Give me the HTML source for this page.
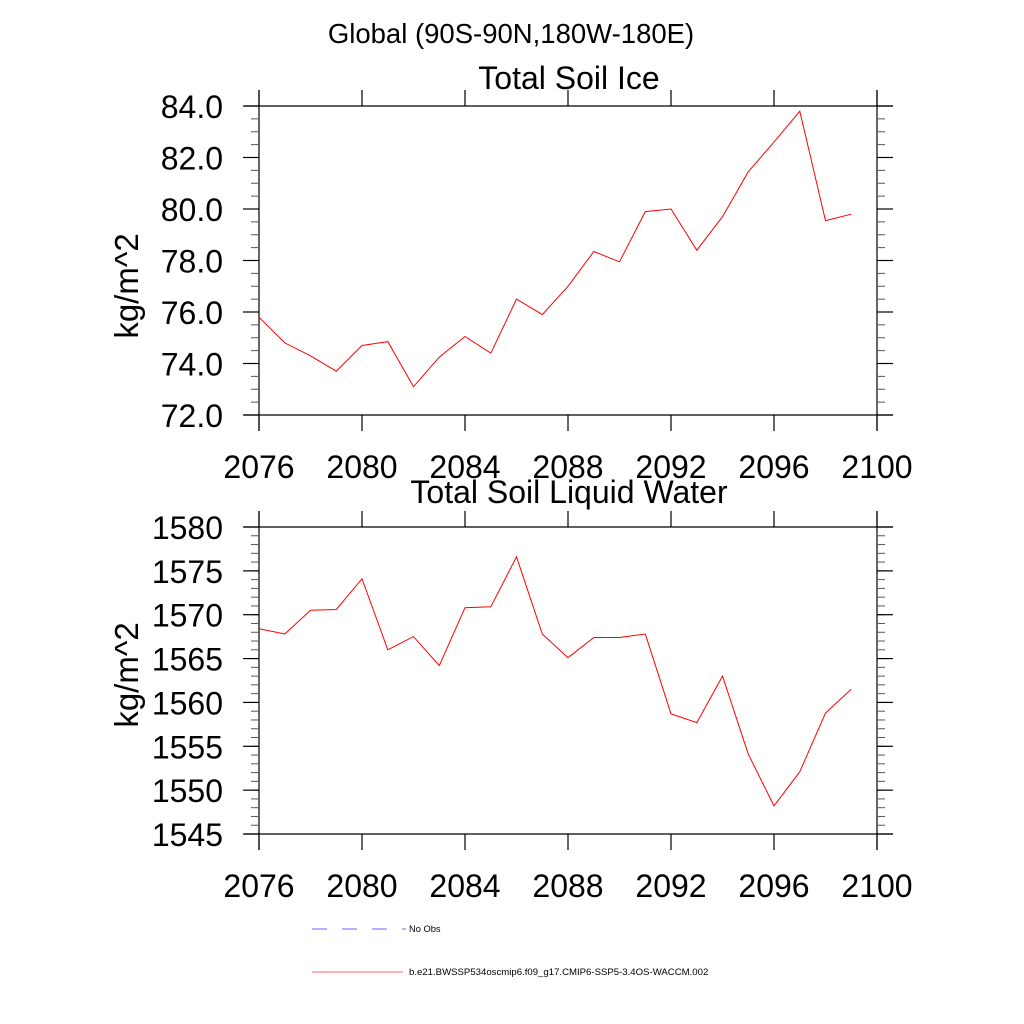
<!DOCTYPE html>
<html><head><meta charset="utf-8"><style>
html,body{margin:0;padding:0;background:#fff;}
svg{display:block;font-family:"Liberation Sans",sans-serif;}
</style></head><body>
<svg id="c" width="1024" height="1024" viewBox="0 0 1024 1024" xmlns="http://www.w3.org/2000/svg">
<text x="511" y="43" font-size="27.5" text-anchor="middle">Global (90S-90N,180W-180E)</text>
<g>
<line x1="312" y1="929" x2="406" y2="929" stroke="#6666ff" stroke-width="1" stroke-dasharray="15,15"/>
<text x="409" y="932" font-size="9.3">No Obs</text>
<line x1="312" y1="972" x2="403" y2="972" stroke="#ff6666" stroke-width="1"/>
<text x="409" y="975" font-size="9.6">b.e21.BWSSP534oscmip6.f09_g17.CMIP6-SSP5-3.4OS-WACCM.002</text>
</g>
</svg>
<script>
const years=[2076,2077,2078,2079,2080,2081,2082,2083,2084,2085,2086,2087,2088,2089,2090,2091,2092,2093,2094,2095,2096,2097,2098,2099];
const iceValues=[75.8,74.8,74.3,73.7,74.7,74.85,73.1,74.25,75.05,74.4,76.5,75.9,77.0,78.35,77.95,79.9,80.0,78.4,79.7,81.45,82.6,83.8,79.55,79.8];
const liqValues=[1568.4,1567.8,1570.5,1570.6,1574.1,1566.0,1567.5,1564.2,1570.8,1570.9,1576.6,1567.8,1565.1,1567.4,1567.4,1567.8,1558.7,1557.7,1563.0,1554.1,1548.2,1552.1,1558.8,1561.5];
const xTicks=[2076,2080,2084,2088,2092,2096,2100];
const iceTicks=[72,74,76,78,80,82,84];
const iceTickLabels=["72.0","74.0","76.0","78.0","80.0","82.0","84.0"];
const liqTicks=[1545,1550,1555,1560,1565,1570,1575,1580];
const liqTickLabels=["1545","1550","1555","1560","1565","1570","1575","1580"];

const NS="http://www.w3.org/2000/svg";
const svg=document.getElementById('c');
function el(tag,attrs,parent){const e=document.createElementNS(NS,tag);for(const k in attrs)e.setAttribute(k,attrs[k]);(parent||svg).appendChild(e);return e;}

function panel(cfg){
  const L=259,R=877,T=cfg.top,B=cfg.bottom;
  const xs=v=>L+(v-2076)/(2100-2076)*(R-L);
  const ys=v=>B-(v-cfg.ymin)/(cfg.ymax-cfg.ymin)*(B-T);
  const g=el('g',{});
  
  
  const bs={stroke:'#000','stroke-width':1.2,fill:'none'};
  let e;
  e=el('line',Object.assign({x1:244,y1:T,x2:893,y2:T},bs),g);
  e=el('line',Object.assign({x1:244,y1:B,x2:893,y2:B},bs),g);
  e=el('line',Object.assign({x1:L,y1:T-16,x2:L,y2:B+16},bs),g);
  e=el('line',Object.assign({x1:R,y1:T-16,x2:R,y2:B+16},bs),g);
  xTicks.forEach(t=>{
    const x=xs(t);
    el('line',{x1:x,y1:T,x2:x,y2:T-16,stroke:'#000','stroke-width':1.2},g);
    el('line',{x1:x,y1:B,x2:x,y2:B+16,stroke:'#000','stroke-width':1.2},g);
    const tx=el('text',{x:x,y:B+63,'font-size':32,'text-anchor':'middle'},g);
    tx.textContent=t;
    
    
  });
  for(let v=cfg.ymin;v<=cfg.ymax+1e-9;v+=cfg.minor){
    const y=ys(v);
    el('line',{x1:L,y1:y,x2:L-8,y2:y,stroke:'#555','stroke-width':1},g);
    el('line',{x1:R,y1:y,x2:R+8,y2:y,stroke:'#555','stroke-width':1},g);
  }
  cfg.ticks.forEach((t,i)=>{
    const y=ys(t);
    el('line',{x1:L,y1:y,x2:L-16,y2:y,stroke:'#000','stroke-width':1.2},g);
    el('line',{x1:R,y1:y,x2:R+16,y2:y,stroke:'#000','stroke-width':1.2},g);
    const tx=el('text',{x:223,y:y+12,'font-size':32,'text-anchor':'end'},g);
    tx.textContent=cfg.labels[i];
    
    
  });
  const title=el('text',{x:569,y:cfg.titleY,'font-size':32,'text-anchor':'middle'},g);
  title.textContent=cfg.title;
  
  
  const yt=el('text',{x:0,y:0,'font-size':33,'text-anchor':'middle',transform:`translate(138,${cfg.ytY}) rotate(-90)`},g);
  yt.textContent='kg/m^2';
  
  
  const pts=years.map((yr,i)=>xs(yr).toFixed(1)+','+ys(cfg.values[i]).toFixed(1)).join(' ');
  const line=el('polyline',{points:pts,fill:'none',stroke:'#ff0000','stroke-width':1},g);
  
  
}
panel({name:'soil-ice-panel',title:'Total Soil Ice',titleY:89,ytY:286,top:106,bottom:415,ymin:72,ymax:84,minor:0.5,ticks:iceTicks,labels:iceTickLabels,values:iceValues});
panel({name:'soil-liquid-panel',title:'Total Soil Liquid Water',titleY:503,ytY:675,top:527,bottom:834,ymin:1545,ymax:1580,minor:1,ticks:liqTicks,labels:liqTickLabels,values:liqValues});
</script>
</body></html>
